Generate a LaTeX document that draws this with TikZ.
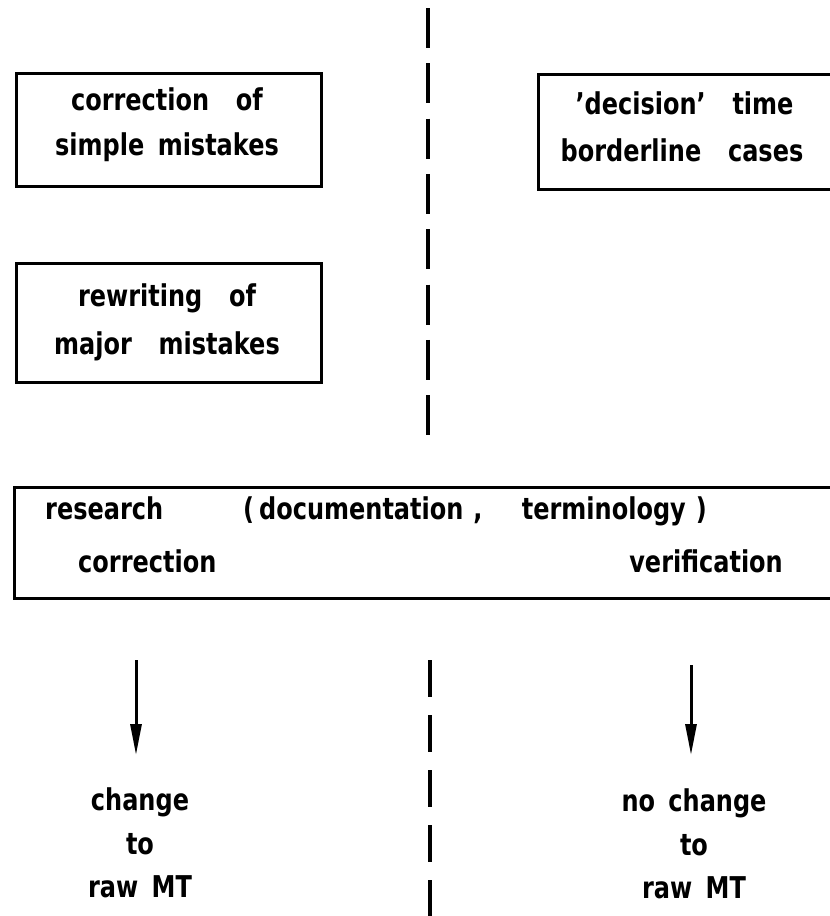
\documentclass[tikz,border=0pt]{standalone}
\usepackage{fontspec}
\setmainfont{DejaVu Sans}[FakeStretch=0.8, WordSpace=1.6]
\usetikzlibrary{arrows.meta}
\tikzset{
  boxline/.style={draw=black, line width=3pt},
  txt/.style={font=\fontsize{30}{45}\selectfont\bfseries, inner sep=0pt, align=center},
  btxt/.style={font=\fontsize{30}{45}\selectfont\bfseries, inner sep=0pt},
  divider/.style={draw=black, line width=4pt},
  arr/.style={draw=black, line width=3pt, -{Triangle[length=31pt,width=11pt]}}
}
\begin{document}
\begin{tikzpicture}[x=1pt,y=-1pt]
\useasboundingbox (0,0) rectangle (830,916);
\clip (0,0) rectangle (830,916);
% vertical dividers
\coordinate (d1s) at (428,8);
\coordinate (d1e) at (428,437);
\coordinate (d2s) at (430,660);
\coordinate (d2e) at (430,940);
\draw[divider, dash pattern=on 40pt off 15.3pt] (d1s) -- (d1e);
\draw[divider, dash pattern=on 37pt off 18pt] (d2s) -- (d2e);
% left upper boxes
\node[boxline, minimum width=305pt, minimum height=113pt, anchor=north west] (b1) at (15,72) {};
\node[txt] (b1t) at (167,125) {correction\ \ of\\simple mistakes};
\node[boxline, minimum width=305pt, minimum height=119pt, anchor=north west] (b3) at (15,262) {};
\node[txt, font=\fontsize{30}{48}\selectfont\bfseries] (b3t) at (167,322) {rewriting\ \ of\\major\ \ mistakes};
% right upper box (runs off the right edge)
\node[boxline, minimum width=320pt, minimum height=115pt, anchor=north west] (b2) at (537,73) {};
\node[txt, font=\fontsize{30}{47}\selectfont\bfseries] (b2t) at (682,127) {\,'decision'\ \ time\\borderline\ \ cases};
% wide box
\node[boxline, minimum width=840pt, minimum height=111pt, anchor=north west] (big) at (13,486) {};
\node[btxt, anchor=mid west] (r1) at (45,517) {research};
\node[btxt, anchor=mid west] (r2) at (243,517) {(\,documentation\,\,,};
\node[btxt, anchor=mid east] (r3) at (707,517) {terminology\,\,)};
\node[btxt, anchor=mid west] (r4) at (78,570) {correction};
\node[btxt, anchor=mid east] (r5) at (783,570) {verification};
% outcomes
\node[txt, font=\fontsize{30}{43.5}\selectfont\bfseries] (chg) at (140,843) {change\\to\\raw MT};
\node[txt, font=\fontsize{30}{43.5}\selectfont\bfseries] (nochg) at (694,844) {no change\\to\\raw MT};
\coordinate (a1s) at (136,660);
\coordinate (a1e) at (136,755);
\coordinate (a2s) at (691,665);
\coordinate (a2e) at (691,755);
\draw[arr] (a1s) -- (a1e);
\draw[arr] (a2s) -- (a2e);
\end{tikzpicture}
\end{document}
